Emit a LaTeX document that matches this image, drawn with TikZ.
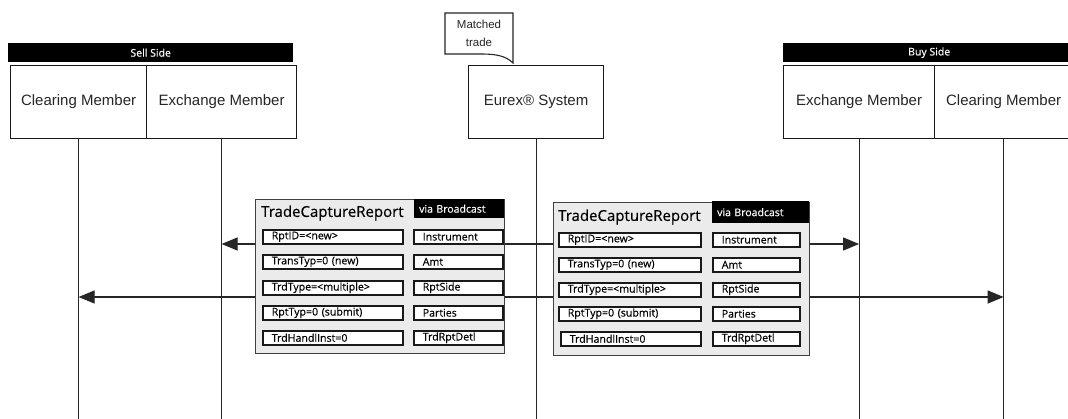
\documentclass[tikz,border=0pt]{standalone}
\usepackage{fontspec}
\setmainfont{Liberation Sans}
\newfontfamily\fieldfont[FakeBold=0.4]{Open Sans}
\usetikzlibrary{arrows.meta}
\begin{document}
\begin{tikzpicture}[x=1pt,y=-1pt,
  line/.style={draw=black!85, line width=1.2pt},
  actor/.style={draw=black!90, line width=1.2pt, fill=white, inner sep=0pt, anchor=north west,
    text=black!85, font=\fontsize{15}{18}\selectfont},
  sidebar/.style={fill=black, inner sep=0pt, anchor=north west, text=white,
    font=\fieldfont\fontsize{10.5}{12}\selectfont},
  tcr/.style={draw=black!75, fill=black!8, line width=1.2pt, inner sep=0pt, anchor=north west},
  hdr/.style={fill=black, inner xsep=5pt, inner ysep=0pt, anchor=north west, text=white, align=left,
    font=\fieldfont\fontsize{10.5}{12}\selectfont},
  ttl/.style={inner sep=0pt, anchor=west, text=black, font=\fieldfont\fontsize{15}{18}\selectfont},
  fld/.style={draw=black!90, fill=white, line width=1.5pt, inner xsep=9pt, inner ysep=0pt,
    minimum height=14pt, align=left, anchor=north west, text=black,
    font=\fieldfont\fontsize{10.6}{11}\selectfont},
  msg/.style={line, -{Triangle[length=16pt,width=13pt]}},
  note/.style={draw=black!85, line width=1.1pt, fill=white}
]
\clip (0,0) rectangle (1068,418);
\fill[white] (0,0) rectangle (1068,418);
\coordinate (bottom) at (0,420);
\coordinate (m1) at (0,244);
\coordinate (m2) at (0,297);

% Sell side
\node[sidebar, minimum width=285pt, minimum height=19pt] (sell) at (8,43) {Sell Side};
\node[actor, minimum width=136pt, minimum height=73pt] (scm) at (10,65) {Clearing Member};
\node[actor, minimum width=150pt, minimum height=73pt] (sem) at (146,65) {Exchange Member};

% Eurex
\node[actor, minimum width=135pt, minimum height=73pt] (eurex) at (468,65) {Eurex® System};
\draw[note] (445,13) -- (513,13) -- (513,63) .. controls (506,56) and (496,54) .. (482,54) -- (445,54) -- cycle;
\node[align=center, inner sep=0pt, text=black!85, font=\fontsize{11.5}{18}\selectfont] (matched) at (479,33) {Matched\\trade};

% Buy side
\node[sidebar, minimum width=292pt, minimum height=19pt] (buy) at (783,43) {Buy Side};
\node[actor, minimum width=151pt, minimum height=73pt] (bem) at (783,65) {Exchange Member};
\node[actor, minimum width=138pt, minimum height=73pt] (bcm) at (934,65) {Clearing Member};

% lifelines
\foreach \a in {scm,sem,eurex,bem,bcm}
  \draw[line] (\a.south) -- (\a.south |- bottom);

% Left TCR
\node[tcr, minimum width=249pt, minimum height=154pt] (ltcr) at (255,199) {};
\node[hdr, text width=80pt, minimum height=19pt] (lhdr) at (414,199) {via Broadcast};
\node[ttl] (lttl) at (261,213) {TradeCaptureReport};
\node[fld, text width=122pt] (la1) at (262,229) {RptID=<new>};
\node[fld, text width=122pt] (la2) at (262,254) {TransTyp=0 (new)};
\node[fld, text width=122pt] (la3) at (262,280) {TrdType=<multiple>};
\node[fld, text width=122pt] (la4) at (262,305) {RptTyp=0 (submit)};
\node[fld, text width=122pt] (la5) at (262,330) {TrdHandlInst=0};
\node[fld, text width=71pt] (lb1) at (413,229) {Instrument};
\node[fld, text width=71pt] (lb2) at (413,254) {Amt};
\node[fld, text width=71pt] (lb3) at (413,280) {RptSide};
\node[fld, text width=71pt] (lb4) at (413,305) {Parties};
\node[fld, text width=71pt] (lb5) at (413,330) {TrdRptDetl};

% Right TCR
\node[tcr, minimum width=256pt, minimum height=153pt] (rtcr) at (553,202) {};
\node[hdr, text width=87pt, minimum height=22pt] (rhdr) at (712,201) {via Broadcast};
\node[ttl] (rttl) at (558,217) {TradeCaptureReport};
\node[fld, text width=124pt] (ra1) at (558,232) {RptID=<new>};
\node[fld, text width=124pt] (ra2) at (558,257) {TransTyp=0 (new)};
\node[fld, text width=124pt] (ra3) at (558,282) {TrdType=<multiple>};
\node[fld, text width=124pt] (ra4) at (558,306) {RptTyp=0 (submit)};
\node[fld, text width=122pt] (ra5) at (560,331) {TrdHandlInst=0};
\node[fld, text width=69pt] (rb1) at (712,232) {Instrument};
\node[fld, text width=69pt] (rb2) at (712,257) {Amt};
\node[fld, text width=69pt] (rb3) at (712,282) {RptSide};
\node[fld, text width=69pt] (rb4) at (712,306) {Parties};
\node[fld, text width=69pt] (rb5) at (712,331) {TrdRptDetl};

% messages
\draw[line] (eurex.south |- m1) -- (ltcr.east |- m1);
\draw[line] (eurex.south |- m2) -- (ltcr.east |- m2);
\draw[line] (eurex.south |- m1) -- (rtcr.west |- m1);
\draw[line] (eurex.south |- m2) -- (rtcr.west |- m2);
\draw[msg] (ltcr.west |- m1) -- (sem.south |- m1);
\draw[msg] (ltcr.west |- m2) -- (scm.south |- m2);
\draw[msg] (rtcr.east |- m1) -- (bem.south |- m1);
\draw[msg] (rtcr.east |- m2) -- (bcm.south |- m2);
\end{tikzpicture}
\end{document}
